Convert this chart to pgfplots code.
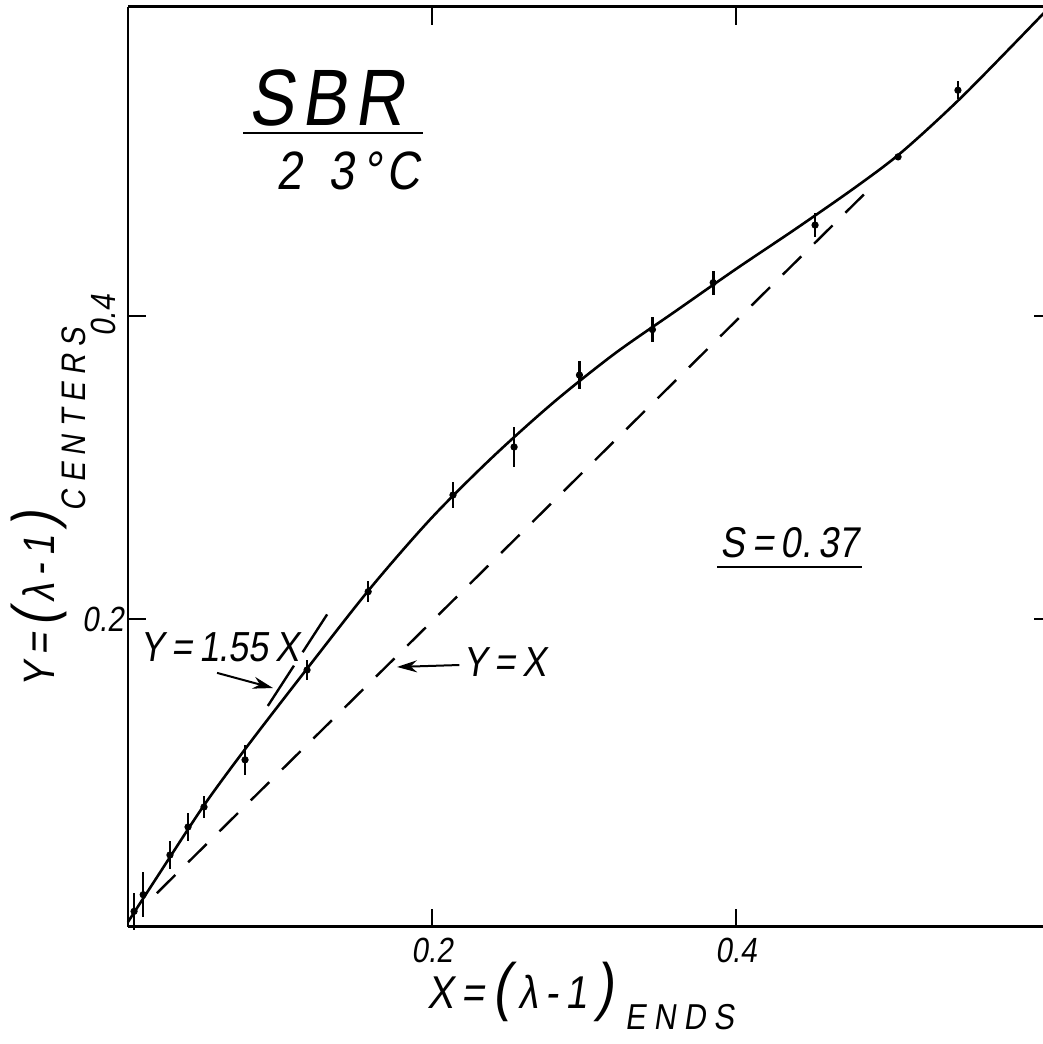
\documentclass[border=0pt]{standalone}
\usepackage{fontspec}
\setmainfont{Liberation Sans}[FakeSlant=0.15, FakeStretch=0.85]
\newfontfamily\titlehand{Liberation Sans}[FakeSlant=0.15, FakeStretch=0.85, LetterSpace=10]
\newfontfamily\widehand{Liberation Sans}[FakeSlant=0.15, FakeStretch=0.85, LetterSpace=22]
\usepackage{pgfplots}
\pgfplotsset{compat=1.18}
\usetikzlibrary{arrows.meta}

% measured strains: ends (x), centers (y) and the spread of each reading
\pgfplotstableread{
x       y       err
0.004   0.007   0.012
0.010   0.018   0.015
0.0276  0.0442  0.009
0.0395  0.0627  0.009
0.050   0.0759  0.007
0.077   0.107   0.010
0.1178  0.1663  0.0066
0.158   0.218   0.007
0.2138  0.2818  0.0086
0.254   0.3135  0.013
0.297   0.361   0.009
0.345   0.391   0.008
0.385   0.422   0.008
0.452   0.460   0.008
0.5066  0.505   0.002
0.546   0.549   0.006
}\measured

% hand-drawn fit through the readings
\pgfplotstableread{
x       y
0       0
0.02    0.031
0.05    0.077
0.08    0.118
0.12    0.170
0.16    0.221
0.20    0.267
0.24    0.307
0.28    0.343
0.32    0.375
0.36    0.403
0.40    0.431
0.44    0.458
0.48    0.486
0.51    0.509
0.55    0.546
0.6045  0.602
}\fitcurve

\begin{document}
\begin{tikzpicture}
\begin{axis}[
  at={(0,0)}, anchor=south west,
  scale only axis, width=462.1pt, height=459.8pt,
  xmin=0, xmax=0.608, ymin=-0.003, ymax=0.604,
  clip=false,
  axis x line=box, axis y line*=left,
  xtick={0.2,0.4}, ytick={0.2}, extra y ticks={0.4},
  tick align=inside, major tick length=9pt,
  tick style={line width=1pt, black},
  axis line style={line width=1.4pt},
  /pgf/number format/assume math mode=true,
  xticklabel style={font=\fontsize{17.5}{20}\selectfont, yshift=-2pt},
  yticklabel style={font=\fontsize{17.5}{20}\selectfont, inner sep=2pt},
  extra y tick style={yticklabel style={rotate=90, anchor=south, inner sep=6pt}},
]
  % ticks on the right-hand side of the frame
  \draw[line width=1pt] (axis cs:0.608,0.2) -- ++(-9pt,0pt);
  \draw[line width=1pt] (axis cs:0.608,0.4) -- ++(-9pt,0pt);

  % reference lines Y = X and Y = 1.55 X
  \addplot[line width=1.2pt, dash pattern=on 13pt off 9pt] coordinates {(0.019,0.019) (0.492,0.488)};
  \addplot[line width=1.2pt, dash pattern=on 24pt off 8pt] coordinates {(0.092,0.1426) (0.131,0.203)};

  % fitted curve
  \addplot[line width=1.3pt, smooth] table[x=x, y=y] {\fitcurve};

  % readings with their spread
  \addplot[only marks, mark=*, mark size=1.6pt,
    error bars/.cd, y dir=both, y explicit, error mark=none,
    error bar style={line width=1.3pt}]
    table[x=x, y=y, y error=err] {\measured};

  % annotations
  \node[anchor=base, font=\titlehand\fontsize{40}{44}\selectfont] at (axis cs:0.1303,0.526) {SBR};
  \draw[line width=1pt] (axis cs:0.0757,0.5208) -- (axis cs:0.194,0.5208);
  \node[anchor=base, font=\fontsize{27}{30}\selectfont] at (axis cs:0.1447,0.4832)
    {2\hspace{0.5em}3\hspace{0.15em}°\hspace{0.1em}C};

  \node[anchor=base, font=\fontsize{21.5}{24}\selectfont] at (axis cs:0.4355,0.2403) {S\,=\,0.\,37};
  \draw[line width=1pt] (axis cs:0.3875,0.2343) -- (axis cs:0.483,0.2343);

  \node[anchor=base, font=\fontsize{21}{24}\selectfont] at (axis cs:0.0605,0.1716) {Y\,=\,1.55\,X};
  \draw[line width=1pt, -{Stealth[length=10pt, width=6pt]}] (axis cs:0.0586,0.1644) -- (axis cs:0.0954,0.1544);

  \node[anchor=base, font=\fontsize{21}{24}\selectfont] at (axis cs:0.248,0.1617) {Y\,=\,X};
  \draw[line width=1pt, -{Stealth[length=10pt, width=6pt]}] (axis cs:0.218,0.1696) -- (axis cs:0.177,0.1683);

  % axis titles
  \node[anchor=base, font=\fontsize{23}{26}\selectfont] at (rel axis cs:0.49,-0.089)
    {X\,=\,{\fontsize{32}{32}\selectfont(}\,λ\,-\,1\,{\fontsize{32}{32}\selectfont)}\hspace{0.25em}\raisebox{-0.45em}{\widehand\fontsize{18}{21}\selectfont ENDS}};
  \node[rotate=90, anchor=base, font=\fontsize{22}{26}\selectfont] at (rel axis cs:-0.0794,0.455)
    {Y\,=\,{\fontsize{30}{30}\selectfont(}\,λ\,-\,1\,{\fontsize{30}{30}\selectfont)}\raisebox{-0.7em}{\widehand\fontsize{17}{20}\selectfont CENTERS}};
\end{axis}
\pgfresetboundingbox
\useasboundingbox (-64pt,-58.75pt) rectangle (457.5pt,463.25pt);
\end{tikzpicture}
\end{document}
